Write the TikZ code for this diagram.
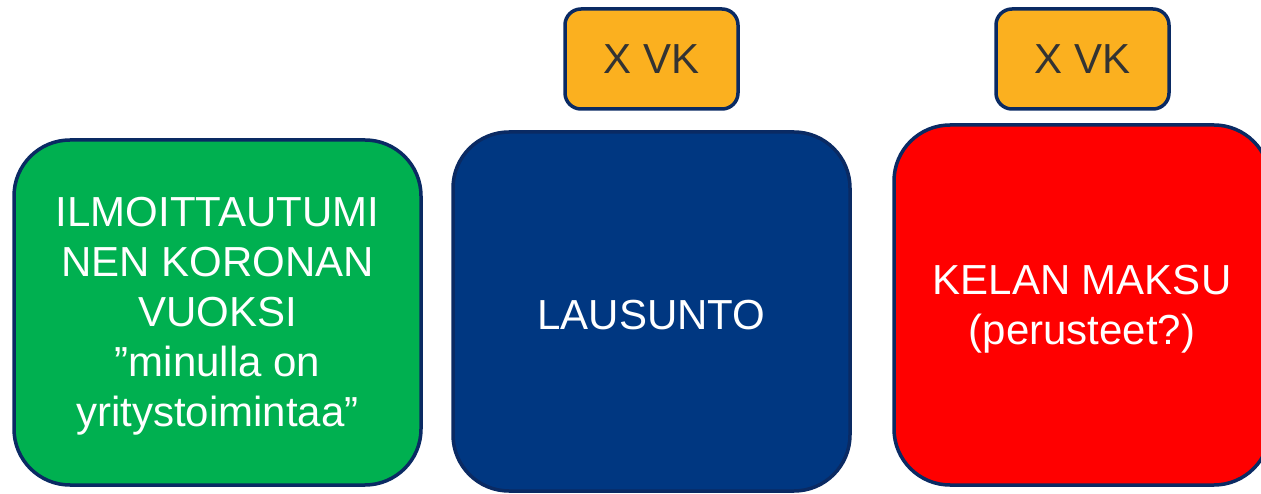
\documentclass[tikz,border=0pt]{standalone}
\usepackage{fontspec}
\setmainfont{Liberation Sans}
\definecolor{navyline}{HTML}{0A2A63}
\definecolor{boxgreen}{HTML}{00B050}
\definecolor{boxblue}{HTML}{003781}
\definecolor{boxred}{HTML}{FF0000}
\definecolor{boxorange}{HTML}{FBB01F}
\definecolor{darktext}{HTML}{333333}
\tikzset{
  bigbox/.style={draw=navyline, line width=3.5pt, rounded corners=56pt, inner sep=0pt},
  boxtext/.style={align=center, text=white, inner sep=0pt, yshift=-4pt,
    font=\fontsize{42}{50}\selectfont},
  tagbox/.style={draw=navyline, line width=3.5pt, rounded corners=16pt,
    fill=boxorange, text=darktext, inner sep=0pt,
    minimum width=173pt, minimum height=100pt,
    font=\fontsize{42}{50}\selectfont}
}
\begin{document}
\begin{tikzpicture}[x=1pt,y=-1pt]
\useasboundingbox (0,0) rectangle (1261,494);
\clip (0,0) rectangle (1261,494);
\node[bigbox, fill=boxgreen, minimum width=407pt, minimum height=345pt,
  label={[boxtext]center:ILMOITTAUTUMI\\NEN KORONAN\\VUOKSI\\”minulla on\\yritystoimintaa”}]
  (ilmo) at (217.5,312.5) {};
\node[bigbox, fill=boxblue, minimum width=397pt, minimum height=359pt,
  label={[boxtext]center:LAUSUNTO}] (lausunto) at (651.5,311.5) {};
\node[bigbox, fill=boxred, minimum width=376pt, minimum height=360pt,
  label={[boxtext]center:KELAN MAKSU\\(perusteet?)}] (kela) at (1082,305) {};
\node[tagbox] (vk1) at (651.5,59) {X VK};
\node[tagbox] (vk2) at (1082.5,59) {X VK};
\end{tikzpicture}
\end{document}
